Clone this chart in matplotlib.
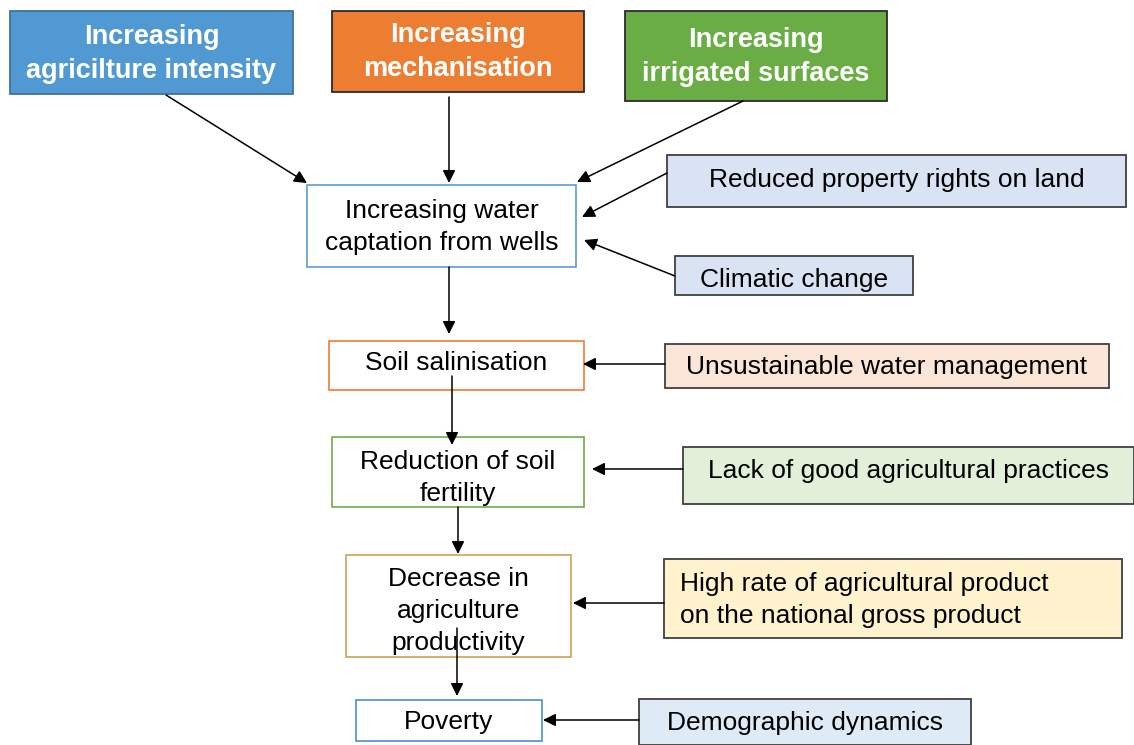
import matplotlib.pyplot as plt
from matplotlib.patches import Rectangle

plt.rcParams['font.family'] = ['Liberation Sans', 'DejaVu Sans']

# driver boxes at the top
top_labels = ['Increasing\nagricilture intensity', 'Increasing\nmechanisation',
              'Increasing\nirrigated surfaces']
top_boxes = [(10, 11, 283, 83), (332, 11, 252, 81), (625, 11, 262, 90)]
top_fill = ['#5199d2', '#ed7d31', '#6aad45']
top_edge = ['#41719c', '#2b2b2b', '#2b2b2b']

# main causal chain
chain_labels = ['Increasing water\ncaptation from wells', 'Soil salinisation',
                'Reduction of soil\nfertility', 'Decrease in\nagriculture\nproductivity',
                'Poverty']
chain_boxes = [(307, 185, 269, 82), (329, 341, 255, 49), (332, 437, 252, 70),
               (346, 555, 225, 102), (356, 700, 186, 41)]
chain_text_y = [227, 363, 478, 611, 722]
chain_edge = ['#5b9bd5', '#ed7d31', '#70ad47', '#c9a456', '#4a8fd0']

# side factors
side_labels = ['Reduced property rights on land', 'Climatic change',
               'Unsustainable water management', 'Lack of good agricultural practices',
               'High rate of agricultural product\non the national gross product',
               'Demographic dynamics']
side_boxes = [(667, 155, 459, 52), (675, 256, 238, 39), (665, 344, 444, 44),
              (683, 447, 451, 57), (664, 559, 458, 79), (639, 699, 332, 46)]
side_fill = ['#dae3f3', '#dae3f3', '#fbe5d6', '#e2f0d9', '#fff2cc', '#deebf7']
side_text_y = [180, 280, 367, 471, 600, 723]

# arrows (start, end)
arrows = [((166, 95), (307, 183)), ((449, 97), (449, 183)), ((743, 101), (577, 182)),
          ((667, 173), (582, 217)), ((675, 276), (584, 240)),
          ((449, 267), (449, 334)), ((665, 364), (583, 364)),
          ((452, 376), (452, 445)), ((683, 469), (592, 469)),
          ((458, 507), (458, 554)), ((664, 603), (573, 603)),
          ((457, 628), (457, 696)), ((639, 720), (543, 720))]

fig = plt.figure(figsize=(11.34, 7.45), dpi=100)
ax = fig.add_axes([0, 0, 1, 1])
ax.set_xlim(0, 1134)
ax.set_ylim(745, 0)
ax.axis('off')

for lab, (x, y, w, h), fc, ec in zip(top_labels, top_boxes, top_fill, top_edge):
    ax.add_patch(Rectangle((x, y), w, h, facecolor=fc, edgecolor=ec, lw=1.3))
    ax.text(x + w / 2, y + h / 2 + 1, lab, ha='center', va='center', color='white',
            fontsize=19.5, fontweight='bold', linespacing=1.4)

for lab, (x, y, w, h), ty, ec in zip(chain_labels, chain_boxes, chain_text_y, chain_edge):
    ax.add_patch(Rectangle((x, y), w, h, facecolor='white', edgecolor=ec, lw=1.2))
    ax.text(x + w / 2, ty, lab, ha='center', va='center', color='black',
            fontsize=19, linespacing=1.4)

for lab, (x, y, w, h), fc, ty in zip(side_labels, side_boxes, side_fill, side_text_y):
    ax.add_patch(Rectangle((x, y), w, h, facecolor=fc, edgecolor='#404040', lw=1.3))
    if '\n' in lab:
        ax.text(x + 16, ty, lab, ha='left', va='center', color='black',
                fontsize=19, linespacing=1.4)
    else:
        ax.text(x + w / 2, ty, lab, ha='center', va='center', color='black',
                fontsize=19)

for (x0, y0), (x1, y1) in arrows:
    ax.annotate('', xy=(x1, y1), xytext=(x0, y0),
                arrowprops=dict(arrowstyle='-|>', color='black', lw=1.1,
                                mutation_scale=19, shrinkA=0, shrinkB=0))

fig.savefig('out.png', dpi=100)
